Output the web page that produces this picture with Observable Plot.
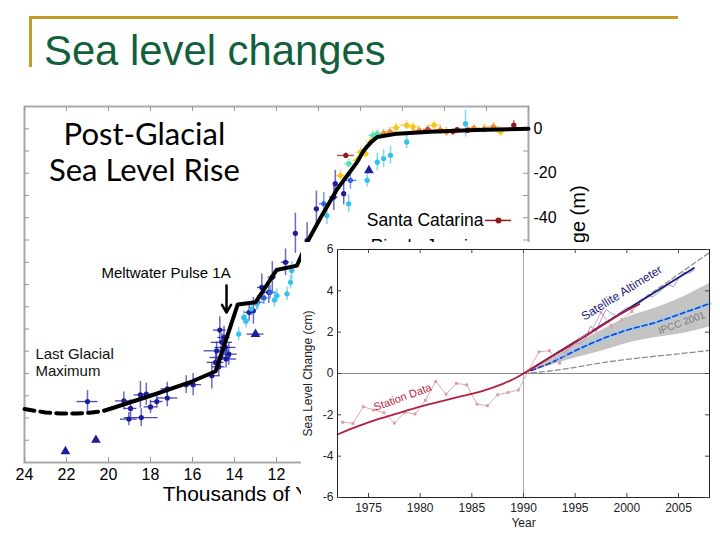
<!DOCTYPE html>
<html><head><meta charset="utf-8">
<script src="https://cdn.jsdelivr.net/npm/d3@7"></script>
<script src="https://cdn.jsdelivr.net/npm/@observablehq/plot@0.6"></script>
<style>
body{margin:0;background:#fff;}
#slide{position:relative;width:720px;height:540px;overflow:hidden;background:#fff;font-family:"Liberation Sans",Arial,sans-serif;}
#title{position:absolute;left:44px;top:30px;font-size:41.8px;color:#125f3b;line-height:1;white-space:nowrap;}
.gold{position:absolute;background:#c39b2d;}
#main{position:absolute;left:0;top:95px;}
#inset{position:absolute;left:301px;top:242px;}
</style></head>
<body><div id="slide">
<div class="gold" style="left:29px;top:16px;width:649px;height:3px"></div>
<div class="gold" style="left:29px;top:16px;width:3px;height:51px"></div>
<div class="gold" style="left:35px;top:512px;width:660px;height:3px"></div>
<div id="title">Sea level changes</div>
<div id="main"></div><div id="inset"></div>
</div>
<script>
// ================= Post-glacial chart data =================
const ageKyr = [
 21.0,19.27,18.95,19.03,18.48,18.44,18.2,18.0,17.7,17.2,17.2,16.3,15.97,15.08,14.7,14.85,14.67,14.43,14.27,14.6,14.9,14.4,14.5,14.75,13.3,13.1,12.7,12.37,12.2,11.57,11.1,10.54,10.1,9.27,9.2,8.8,
 12.3,12.9,9.75,8.48,14.55,12.6,
 13.8,13.56,13.45,13.2,12.94,12.1,11.98,11.5,11.33,11.27,9.6,8.56,7.68,7.2,6.9,6.57,5.8,3.0,
 8.95,8.16,8.0,7.76,7.52,6.3,5.8,5.5,4.5,1.33,
 6.9,6.6,5.2,4.2,3.9,2.6,2.1,1.67,
 8.7,3.4,2.9,0.7,
 4.8,3.6,
 8.56,7.4,7.2,
 22.05,20.6,13.0,7.6
];
const seaLevelM = [
 -122.6,-122.3,-125.7,-130.5,-119.6,-129.8,-119.3,-125,-122.6,-121,-116.9,-115,-115,-111,-90.5,-99.8,-102.8,-98.3,-101.3,-96,-105,-103.5,-93.8,-107,-82.5,-81.8,-71.3,-73.5,-66.7,-60,-47,-50.2,-36,-30.7,-24.7,-29.2,
 -73.5,-78,-33.7,-23.2,-100,-76,
 -92.3,-84.8,-86.5,-81,-78.7,-77,-75,-74.2,-69,-63.7,-39,-33.7,-23.2,-15,-13.4,-11.9,-5.9,2.3,
 -21,-14.2,-10.5,-11.2,-5.9,0.5,1.6,0.8,1.6,-1.4,
 -2.2,-1.4,-0.8,-0.5,-1.4,0.3,0,0.8,
 -12,-0.4,-0.7,1.6,
 -0.3,-1.4,
 -15.7,-3,-2.2,
 -145,-139.9,-92.3,-18.7
];
const ageErrKyr = [
 0.5,0.4,0.3,0.4,0.3,0.8,0.3,0.3,0.3,0.5,0.3,0.3,0.4,0.4,0.3,0.6,0.5,0.5,0.4,0.5,0.4,0.5,0.3,0.3,0.2,0.1,0.2,0.2,0.2,0.2,0.1,0.1,0.1,0.2,0.1,0.1,
 0.3,0.3,0.2,0.3,0.3,0.2,
 0.1,0.1,0.1,0.1,0.1,0.1,0.1,0.1,0.1,0.1,0.1,0.1,0.1,0.1,0.1,0.1,0.1,0.05,
 0.2,0.2,0.2,0.2,0.2,0.2,0.3,0.3,0.3,0.2,
 0.3,0.3,0.3,0.3,0.3,0.3,0.3,0.3,
 0.4,0.3,0.3,0.1,
 0.2,0.2,
 0.2,0.2,0.2,
 0,0,0.4,0
];
const levelErrM = [
 5,4,4,3,6,4,5,3,3,4,3,4,5,6,6,4,5,5,5,4,4,4,5,4,4,6,6,5,7,6,9,8,8,6,6,5,
 3,3,5,4,3,3,
 3,3,3,3,3,3,3,3,3,4,4,4,3,4,4,4,3,6,
 2,2,2,2,2,2,2,2,2,2,
 2,2,2,2,2,1.5,2,2,
 1,1,1.5,2,
 1.5,1.5,
 2,2,2,
 0,0,0,0
];
const sourceOf = [
 ...Array(36).fill("Barbados"),
 ...Array(6).fill("New Guinea"),
 ...Array(18).fill("Tahiti"),
 ...Array(10).fill("Bahia"),
 ...Array(8).fill("Paraná"),
 ...Array(4).fill("Santa Catarina"),
 ...Array(2).fill("Rio de Janeiro"),
 ...Array(3).fill("São Paulo"),
 ...Array(4).fill("Sunda Shelf")
];
const curveDashedAge   = [24, 23, 22.3, 21.5, 20.9, 20.3, 19.8];
const curveDashedLevel = [-126, -127.5, -128, -128, -127.6, -127, -125.5];
const curveSolidAge   = [19.8, 18, 16, 14.9, 13.85, 13.0, 12.0, 11.03, 10.48, 9.9, 9.1, 8.63, 8.16, 7.84, 7.5, 7.2, 6.25, 4.67, 2.5, 0];
const curveSolidLevel = [-125.5, -120, -113.5, -109, -79, -78, -63.5, -61.5, -50, -40, -27, -21, -15, -9.7, -6, -3.7, -2.2, -1.4, -0.6, 0];
const ageTickLabels   = [24, 22, 20, 18, 16, 14, 12, 10, 8, 6, 4, 2, 0];
const levelTickLabels = [0, -20, -40, -60, -80, -100, -120, -140];
const levelMinorTicks = [0, -10, -20, -30, -40, -50, -60, -70, -80, -90, -100, -110, -120, -130, -140];
const legendSources   = ["Santa Catarina", "Rio de Janeiro"];

// ================= Recent sea-level chart data =================
const stationYear = [1972.5,1973.5,1974.5,1975.5,1976.5,1977.5,1978.5,1979.5,1980.5,1981.5,1982.5,1983.5,1984.5,1985.5,1986.5,1987.5,1988.5,1989.5,1990.5,1991.5,1992.5,1993.5,1994.5,1995.5,1996.5,1997.5,1998.5,1999.5,2000.5];
const stationCm   = [-2.36,-2.41,-1.61,-1.77,-1.9,-2.4,-1.88,-1.96,-1.3,-0.39,-1.0,-0.48,-0.55,-1.48,-1.56,-1.03,-0.92,-0.8,0.15,1.05,1.1,0.5,1.3,1.7,2.0,2.95,2.3,2.6,3.0];
const stationTrendYear = [1972,1974,1976,1978,1980,1982,1984,1986,1988,1989,1990,1992,1994,1996,1998,2000,2001.2];
const stationTrendCm   = [-2.95,-2.55,-2.2,-1.9,-1.6,-1.35,-1.1,-0.85,-0.5,-0.28,0,0.6,1.2,1.8,2.45,3.05,3.35];
const altimeterYear = [1993,1993.5,1994,1994.5,1995,1995.5,1996,1996.5,1997,1997.5,1998,1998.5,1999,1999.5,2000,2000.5,2001,2001.5,2002,2002.5,2003,2003.5,2004,2004.5,2005,2005.5,2006,2006.5];
const altimeterCm   = [0.9,1.1,1.0,1.3,1.5,1.45,1.7,2.3,2.0,2.6,3.1,2.9,2.8,3.0,3.2,3.05,3.3,3.5,3.8,3.7,3.9,4.1,4.3,4.2,4.6,4.9,4.85,5.0];
const altimeterTrendYear = [1990.5, 2006.5];
const altimeterTrendCm   = [0.15, 5.1];
const projYear       = [1990, 1993, 1995, 1998, 2000, 2003, 2005, 2008];
const projCentralCm  = [0, 0.6, 1.1, 1.75, 2.1, 2.5, 2.85, 3.38];
const projBandLowCm  = [0, 0.45, 0.75, 1.15, 1.45, 1.75, 1.9, 2.25];
const projBandHighCm = [0, 0.8, 1.4, 2.2, 2.7, 3.2, 3.6, 4.35];
const projLowerCm    = [0, 0.15, 0.3, 0.55, 0.68, 0.85, 0.95, 1.12];
const projUpperCm    = [0, 0.9, 1.5, 2.5, 3.1, 4.1, 4.8, 5.85];
const yearTicks = [1975, 1980, 1985, 1990, 1995, 2000, 2005];
const cmTicks   = [6, 4, 2, 0, -2, -4, -6];

// ================= styles =================
const sourceColor = {
  "Barbados": "#1c1c9e", "New Guinea": "#2f62dc", "Tahiti": "#36c0ee",
  "Bahia": "#f4c51a", "Paraná": "#f08a22", "Santa Catarina": "#961c1c",
  "Rio de Janeiro": "#e23a3a", "São Paulo": "#55e2b2", "Sunda Shelf": "#1c1c9e"
};
const fmt = d => String(d);

// ================= main chart =================
{
  const W = 600, H = 420, mT = 11, mB = 53, mL = 24, mR = 72;
  const pw = W - mL - mR, ph = H - mT - mB, tk = 5;
  const pts = ageKyr.map((a, i) => ({age: a, level: seaLevelM[i], ea: ageErrKyr[i], el: levelErrM[i], src: sourceOf[i]}));
  const circles = pts.filter(d => d.src !== "Sunda Shelf");
  const tris = pts.filter(d => d.src === "Sunda Shelf");
  const dashed = curveDashedAge.map((a, i) => ({age: a, level: curveDashedLevel[i]}));
  const solid = curveSolidAge.map((a, i) => ({age: a, level: curveSolidLevel[i]}));
  const col = d => sourceColor[d.src];
  const legend = legendSources.map((s, i) => ({src: s, i}));
  const chart = Plot.plot({
    width: W, height: H, marginTop: mT, marginBottom: mB, marginLeft: mL, marginRight: mR,
    style: {fontFamily: "Liberation Sans, Arial, sans-serif", background: "white", color: "black"},
    x: {domain: [24, 0], axis: null},
    y: {domain: [-150, 10], axis: null},
    color: {type: "identity"},
    marks: [
      Plot.frame({stroke: "#a9a9a9", strokeWidth: 2}),
      Plot.tickX(ageTickLabels, {x: d => d, insetTop: ph - tk, stroke: "#999"}),
      Plot.tickX(ageTickLabels, {x: d => d, insetBottom: ph - tk, stroke: "#999"}),
      Plot.tickY(levelMinorTicks, {y: d => d, insetRight: pw - tk, stroke: "#999"}),
      Plot.tickY(levelMinorTicks, {y: d => d, insetLeft: pw - tk, stroke: "#999"}),
      Plot.axisX({ticks: ageTickLabels, tickSize: 0, tickPadding: 6, tickFormat: fmt, fontSize: 16, label: null}),
      Plot.axisY({anchor: "right", ticks: levelTickLabels, tickSize: 0, tickPadding: 5, tickFormat: fmt, fontSize: 16, label: null}),
      Plot.text(["Thousands of Years Ago"], {text: d => d, frameAnchor: "bottom", dy: 38, fontSize: 21}),
      Plot.text(["Sea Level Change (m)"], {text: d => d, frameAnchor: "right", textAnchor: "middle", rotate: -90, dx: 50, dy: 1, fontSize: 20}),
      Plot.line(dashed, {x: "age", y: "level", stroke: "black", strokeWidth: 4, strokeDasharray: "10,6"}),
      Plot.ruleX(circles.concat(tris).filter(d => d.el > 0), {x: "age", y1: d => d.level - d.el, y2: d => d.level + d.el, stroke: col, strokeWidth: 1.5, strokeOpacity: 0.65}),
      Plot.ruleY(circles.concat(tris).filter(d => d.ea > 0), {y: "level", x1: d => d.age - d.ea, x2: d => d.age + d.ea, stroke: col, strokeWidth: 1.3, strokeOpacity: 0.8}),
      Plot.dot(circles, {x: "age", y: "level", fill: col, r: 2.6}),
      Plot.dot(tris, {x: "age", y: "level", fill: col, symbol: "triangle", r: 3.6}),
      Plot.line(solid, {x: "age", y: "level", stroke: "black", strokeWidth: 4}),
      Plot.text(["Post-Glacial\nSea Level Rise"], {text: d => d, x: 18.29, y: -10.2, fontSize: 31, fontFamily: "Lato", lineHeight: 1.16}),
      Plot.text(["Meltwater Pulse 1A"], {text: d => d, x: 17.26, y: -65, fontSize: 15}),
      Plot.arrow([0], {x1: 14.38, y1: -70.5, x2: 14.38, y2: -82.6, stroke: "black", strokeWidth: 2.5, headLength: 9}),
      Plot.text(["Last Glacial\nMaximum"], {text: d => d, x: 23.48, y: -105, textAnchor: "start", fontSize: 15, lineHeight: 1.13, fill: "#111"}),
      Plot.text(legend, {text: "src", x: 2.14, y: d => -41.2 - d.i * 11.7, textAnchor: "end", fontSize: 17.5}),
      Plot.ruleY(legend, {y: d => -41.2 - d.i * 11.7, x1: 2.05, x2: 0.8, stroke: col, strokeWidth: 1.5}),
      Plot.dot(legend, {y: d => -41.2 - d.i * 11.7, x: 1.43, fill: col, r: 3})
    ]
  });
  document.getElementById("main").appendChild(chart);
}

// ================= inset chart =================
{
  const W = 411, H = 298, mT = 7, mB = 43, mL = 36, mR = 3;
  const pw = W - mL - mR, ph = H - mT - mB, tk = 4;
  const station = stationYear.map((y, i) => ({year: y, cm: stationCm[i]}));
  const stationTrend = stationTrendYear.map((y, i) => ({year: y, cm: stationTrendCm[i]}));
  const alt = altimeterYear.map((y, i) => ({year: y, cm: altimeterCm[i]}));
  const altTrend = altimeterTrendYear.map((y, i) => ({year: y, cm: altimeterTrendCm[i]}));
  const proj = projYear.map((y, i) => ({year: y, c: projCentralCm[i], lo: projBandLowCm[i], hi: projBandHighCm[i], l: projLowerCm[i], u: projUpperCm[i]}));
  const chart = Plot.plot({
    width: W, height: H, marginTop: mT, marginBottom: mB, marginLeft: mL, marginRight: mR,
    style: {fontFamily: "Liberation Sans, Arial, sans-serif", background: "white", color: "#222"},
    x: {domain: [1972, 2008], axis: null},
    y: {domain: [-6, 6], axis: null},
    marks: [
      Plot.areaY(proj, {x: "year", y1: "lo", y2: "hi", fill: "#c4c4c4", curve: "monotone-x"}),
      Plot.ruleY([0], {stroke: "#8a8a8a"}),
      Plot.ruleX([1990], {stroke: "#a8a8a8"}),
      Plot.line(proj, {x: "year", y: "l", stroke: "#8c8c8c", strokeWidth: 1.3, strokeDasharray: "5,3", curve: "monotone-x"}),
      Plot.line(proj, {x: "year", y: "u", stroke: "#8c8c8c", strokeWidth: 1.3, strokeDasharray: "5,3", curve: "monotone-x"}),
      Plot.line(proj.filter(d => d.year >= 1993), {x: "year", y: "c", stroke: "#8fd0ff", strokeWidth: 4, strokeOpacity: 0.8, curve: "monotone-x"}),
      Plot.line(proj, {x: "year", y: "c", stroke: "#1f3fc0", strokeWidth: 1.6, strokeDasharray: "5,3", curve: "monotone-x"}),
      Plot.line(alt, {x: "year", y: "cm", stroke: "#9a9ae8", strokeWidth: 1}),
      Plot.line(altTrend, {x: "year", y: "cm", stroke: "#1a1a80", strokeWidth: 1.8}),
      Plot.line(station, {x: "year", y: "cm", stroke: "#e3a9b0", strokeWidth: 1}),
      Plot.dot(station, {x: "year", y: "cm", fill: "#dc9aa3", r: 1.6, symbol: "square"}),
      Plot.line(stationTrend, {x: "year", y: "cm", stroke: "#b51e3c", strokeWidth: 1.8, curve: "monotone-x"}),
      Plot.frame({stroke: "#222"}),
      Plot.tickX(yearTicks, {x: d => d, insetTop: ph - tk, stroke: "#444"}),
      Plot.tickX(yearTicks, {x: d => d, insetBottom: ph - tk, stroke: "#444"}),
      Plot.tickY(cmTicks, {y: d => d, insetRight: pw - tk, stroke: "#444"}),
      Plot.tickY(cmTicks, {y: d => d, insetLeft: pw - tk, stroke: "#444"}),
      Plot.axisX({ticks: yearTicks, tickSize: 0, tickPadding: 6, tickFormat: fmt, fontSize: 12, label: null}),
      Plot.axisY({ticks: cmTicks, tickSize: 0, tickPadding: 4, tickFormat: fmt, fontSize: 12, label: null}),
      Plot.text(["Year"], {text: d => d, x: 1990, frameAnchor: "bottom", dy: 29, fontSize: 12}),
      Plot.text(["Sea Level Change (cm)"], {text: d => d, frameAnchor: "left", textAnchor: "middle", rotate: -90, dx: -29, fontSize: 12}),
      Plot.text(["Station Data"], {text: d => d, x: 1978.3, y: -1.15, rotate: -20, fill: "#b51e3c", fontSize: 11}),
      Plot.text(["Satellite Altimeter"], {text: d => d, x: 1999.5, y: 3.9, rotate: -32, fill: "#1a1a80", fontSize: 12}),
      Plot.text(["IPCC 2001"], {text: d => d, x: 2005.3, y: 2.45, rotate: -20, fill: "#7a7a7a", fontSize: 10})
    ]
  });
  document.getElementById("inset").appendChild(chart);
}
</script>
</body></html>
